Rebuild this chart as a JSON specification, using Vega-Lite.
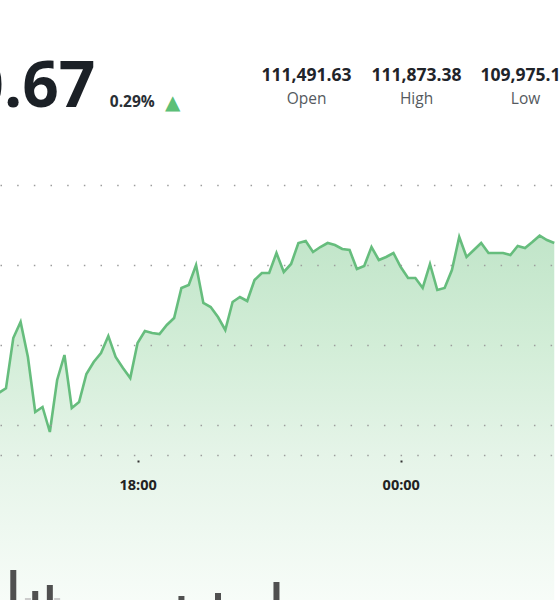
{
  "$schema": "https://vega.github.io/schema/vega-lite/v6.json",
  "width": 560,
  "height": 600,
  "autosize": {"type": "none"},
  "padding": 0,
  "background": "white",
  "config": {"view": {"stroke": null}, "font": "Open Sans"},
  "datasets": {
    "price": [
      {"time": "2025-08-25T14:50:00", "price": 111480},
      {"time": "2025-08-25T15:00:00", "price": 111491.63},
      {"time": "2025-08-25T15:10:00", "price": 111617.5},
      {"time": "2025-08-25T15:20:00", "price": 111657.5},
      {"time": "2025-08-25T15:30:00", "price": 111570},
      {"time": "2025-08-25T15:40:00", "price": 111432.5},
      {"time": "2025-08-25T15:50:00", "price": 111445},
      {"time": "2025-08-25T16:00:00", "price": 111382.5},
      {"time": "2025-08-25T16:10:00", "price": 111512.5},
      {"time": "2025-08-25T16:20:00", "price": 111575},
      {"time": "2025-08-25T16:30:00", "price": 111442.5},
      {"time": "2025-08-25T16:40:00", "price": 111457.5},
      {"time": "2025-08-25T16:50:00", "price": 111527.5},
      {"time": "2025-08-25T17:00:00", "price": 111557.5},
      {"time": "2025-08-25T17:10:00", "price": 111580},
      {"time": "2025-08-25T17:20:00", "price": 111622.5},
      {"time": "2025-08-25T17:30:00", "price": 111570},
      {"time": "2025-08-25T17:40:00", "price": 111542.5},
      {"time": "2025-08-25T17:50:00", "price": 111517.5},
      {"time": "2025-08-25T18:00:00", "price": 111605},
      {"time": "2025-08-25T18:10:00", "price": 111635},
      {"time": "2025-08-25T18:20:00", "price": 111630},
      {"time": "2025-08-25T18:30:00", "price": 111627.5},
      {"time": "2025-08-25T18:40:00", "price": 111650},
      {"time": "2025-08-25T18:50:00", "price": 111667.5},
      {"time": "2025-08-25T19:00:00", "price": 111742.5},
      {"time": "2025-08-25T19:10:00", "price": 111750},
      {"time": "2025-08-25T19:20:00", "price": 111800},
      {"time": "2025-08-25T19:30:00", "price": 111705},
      {"time": "2025-08-25T19:40:00", "price": 111695},
      {"time": "2025-08-25T19:50:00", "price": 111670},
      {"time": "2025-08-25T20:00:00", "price": 111637.5},
      {"time": "2025-08-25T20:10:00", "price": 111707.5},
      {"time": "2025-08-25T20:20:00", "price": 111720},
      {"time": "2025-08-25T20:30:00", "price": 111710},
      {"time": "2025-08-25T20:40:00", "price": 111762.5},
      {"time": "2025-08-25T20:50:00", "price": 111780},
      {"time": "2025-08-25T21:00:00", "price": 111780},
      {"time": "2025-08-25T21:10:00", "price": 111830},
      {"time": "2025-08-25T21:20:00", "price": 111782.5},
      {"time": "2025-08-25T21:30:00", "price": 111802.5},
      {"time": "2025-08-25T21:40:00", "price": 111855},
      {"time": "2025-08-25T21:50:00", "price": 111860},
      {"time": "2025-08-25T22:00:00", "price": 111832.5},
      {"time": "2025-08-25T22:10:00", "price": 111845},
      {"time": "2025-08-25T22:20:00", "price": 111855},
      {"time": "2025-08-25T22:30:00", "price": 111850},
      {"time": "2025-08-25T22:40:00", "price": 111840},
      {"time": "2025-08-25T22:50:00", "price": 111837.5},
      {"time": "2025-08-25T23:00:00", "price": 111790},
      {"time": "2025-08-25T23:10:00", "price": 111797.5},
      {"time": "2025-08-25T23:20:00", "price": 111845},
      {"time": "2025-08-25T23:30:00", "price": 111812.5},
      {"time": "2025-08-25T23:40:00", "price": 111820},
      {"time": "2025-08-25T23:50:00", "price": 111830},
      {"time": "2025-08-26T00:00:00", "price": 111795},
      {"time": "2025-08-26T00:10:00", "price": 111767.5},
      {"time": "2025-08-26T00:20:00", "price": 111767.5},
      {"time": "2025-08-26T00:30:00", "price": 111742.5},
      {"time": "2025-08-26T00:40:00", "price": 111802.5},
      {"time": "2025-08-26T00:50:00", "price": 111737.5},
      {"time": "2025-08-26T01:00:00", "price": 111742.5},
      {"time": "2025-08-26T01:10:00", "price": 111787.5},
      {"time": "2025-08-26T01:20:00", "price": 111870},
      {"time": "2025-08-26T01:30:00", "price": 111820},
      {"time": "2025-08-26T01:40:00", "price": 111837.5},
      {"time": "2025-08-26T01:50:00", "price": 111855},
      {"time": "2025-08-26T02:00:00", "price": 111830},
      {"time": "2025-08-26T02:10:00", "price": 111830},
      {"time": "2025-08-26T02:20:00", "price": 111830},
      {"time": "2025-08-26T02:30:00", "price": 111825},
      {"time": "2025-08-26T02:40:00", "price": 111847.5},
      {"time": "2025-08-26T02:50:00", "price": 111842.5},
      {"time": "2025-08-26T03:00:00", "price": 111857.5},
      {"time": "2025-08-26T03:10:00", "price": 111873.38},
      {"time": "2025-08-26T03:20:00", "price": 111862.5},
      {"time": "2025-08-26T03:30:00", "price": 111855}
    ],
    "volume": [
      {"time": "2025-08-25T15:10:00", "vol": 27.5, "dir": "up"},
      {"time": "2025-08-25T15:30:00", "vol": 20.5, "dir": "down"},
      {"time": "2025-08-25T15:40:00", "vol": 22.25, "dir": "up"},
      {"time": "2025-08-25T16:00:00", "vol": 23.75, "dir": "up"},
      {"time": "2025-08-25T16:10:00", "vol": 20.5, "dir": "down"},
      {"time": "2025-08-25T19:00:00", "vol": 21, "dir": "up"},
      {"time": "2025-08-25T19:50:00", "vol": 21.75, "dir": "up"},
      {"time": "2025-08-25T21:10:00", "vol": 24.5, "dir": "up"}
    ]
  },
  "resolve": {"scale": {"y": "independent"}},
  "layer": [
    {
      "layer": [
        {
          "data": {"name": "price"},
          "mark": {
            "type": "area",
            "clip": true,
            "color": {
              "gradient": "linear",
              "x1": 0, "y1": 0, "x2": 0, "y2": 1,
              "stops": [
                {"offset": 0, "color": "#c1e5c9"},
                {"offset": 0.3, "color": "#d2edd7"},
                {"offset": 0.6, "color": "#e5f4e8"},
                {"offset": 1, "color": "#f7fcf8"}
              ]
            }
          },
          "encoding": {
            "x": {
              "field": "time", "type": "temporal",
              "scale": {"domain": [{"year": 2025, "month": 8, "date": 25, "hours": 14, "minutes": 58, "seconds": 40}, {"year": 2025, "month": 8, "date": 26, "hours": 3, "minutes": 31}], "nice": false},
              "axis": {
                "orient": "bottom",
                "offset": -145,
                "zindex": 1,
                "title": null,
                "domain": false,
                "grid": false,
                "values": [{"year": 2025, "month": 8, "date": 25, "hours": 18}, {"year": 2025, "month": 8, "date": 26, "hours": 0}],
                "format": "%H:%M",
                "tickSize": 7,
                "tickDash": [0, 5, 2, 10],
                "tickWidth": 2,
                "tickColor": "#333333",
                "labelPadding": 16,
                "labelFont": "Open Sans",
                "labelFontWeight": "bold",
                "labelFontSize": 14.5,
                "labelColor": "#222222"
              }
            },
            "y": {
              "field": "price", "type": "quantitative",
              "scale": {"domain": [110962.5, 112462.5], "nice": false, "zero": false},
              "axis": {
                "orient": "left",
                "zindex": 1,
                "title": null,
                "labels": false,
                "ticks": false,
                "domain": false,
                "grid": true,
                "values": [111325, 111400, 111600, 111800, 112000],
                "gridColor": "#9c9c9c",
                "gridDash": [1.5, 15.17],
                "gridWidth": 1.5
              }
            },
            "y2": {"datum": 110962.5}
          }
        },
        {
          "data": {"name": "price"},
          "mark": {"type": "line", "clip": true, "color": "#66bd7d", "strokeWidth": 2.6},
          "encoding": {
            "x": {"field": "time", "type": "temporal"},
            "y": {"field": "price", "type": "quantitative"}
          }
        },
        {
          "data": {"values": [{"text": "111,820.67"}]},
          "mark": {"type": "text", "align": "right", "baseline": "alphabetic", "font": "Open Sans", "fontWeight": "bold", "fontSize": 64, "color": "#1b2026"},
          "encoding": {
            "text": {"field": "text"},
            "x": {"datum": {"year": 2025, "month": 8, "date": 25, "hours": 17, "minutes": 2, "seconds": 16}, "type": "temporal"},
            "y": {"datum": 112195, "type": "quantitative"}
          }
        },
        {
          "data": {"values": [{"text": "0.29%"}]},
          "mark": {"type": "text", "align": "left", "baseline": "alphabetic", "font": "Open Sans", "fontWeight": "bold", "fontSize": 15.5, "color": "#2a2f35"},
          "encoding": {
            "text": {"field": "text"},
            "x": {"datum": {"year": 2025, "month": 8, "date": 25, "hours": 17, "minutes": 22, "seconds": 0}, "type": "temporal"},
            "y": {"datum": 112195, "type": "quantitative"}
          }
        },
        {
          "data": {"values": [{"text": "▲"}]},
          "mark": {"type": "text", "align": "center", "baseline": "middle", "font": "DejaVu Sans", "fontSize": 20, "color": "#5cbf77"},
          "encoding": {
            "text": {"field": "text"},
            "x": {"datum": {"year": 2025, "month": 8, "date": 25, "hours": 18, "minutes": 48, "seconds": 0}, "type": "temporal"},
            "y": {"datum": 112206, "type": "quantitative"}
          }
        },
        {
          "data": {"values": [
            {"label": "Open", "value": "111,491.63", "t": "2025-08-25T21:51:06"},
            {"label": "High", "value": "111,873.38", "t": "2025-08-26T00:21:34"},
            {"label": "Low", "value": "109,975.12", "t": "2025-08-26T02:50:42"}
          ]},
          "layer": [
            {
              "mark": {"type": "text", "align": "center", "baseline": "alphabetic", "font": "Open Sans", "fontWeight": "bold", "fontSize": 17.5, "color": "#1f242a"},
              "encoding": {
                "text": {"field": "value"},
                "x": {"field": "t", "type": "temporal"},
                "y": {"datum": 112260, "type": "quantitative"}
              }
            },
            {
              "mark": {"type": "text", "align": "center", "baseline": "alphabetic", "font": "Open Sans", "fontSize": 15.5, "color": "#555a60"},
              "encoding": {
                "text": {"field": "label"},
                "x": {"field": "t", "type": "temporal"},
                "y": {"datum": 112202.5, "type": "quantitative"}
              }
            }
          ]
        }
      ]
    },
    {
      "data": {"name": "volume"},
      "mark": {"type": "bar", "clip": true, "size": 6},
      "encoding": {
        "x": {"field": "time", "type": "temporal"},
        "y": {
          "field": "vol", "type": "quantitative",
          "scale": {"domain": [20, 170], "nice": false, "zero": false},
          "axis": null
        },
        "color": {
          "field": "dir", "type": "nominal",
          "scale": {"domain": ["up", "down"], "range": ["#505050", "#cccccc"]},
          "legend": null
        }
      }
    }
  ]
}
